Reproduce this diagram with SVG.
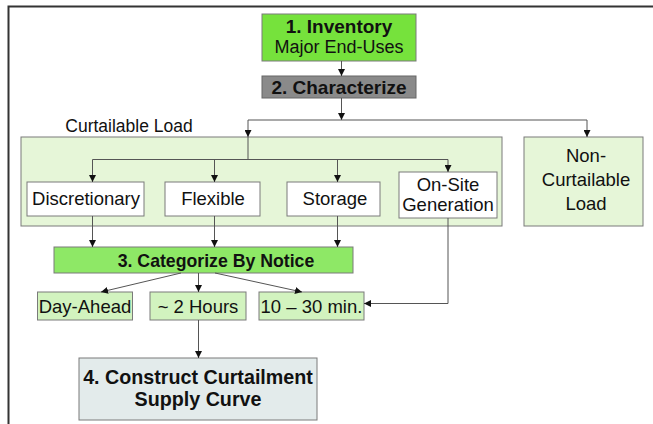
<svg xmlns="http://www.w3.org/2000/svg" width="653" height="424" viewBox="0 0 653 424">
<style>
  text{font-family:"Liberation Sans",Arial,sans-serif;fill:#111;text-anchor:middle}
  .b{font-weight:bold}
  .box{stroke:#7a7a7a;stroke-width:1}
  .ln{fill:none;stroke:#555;stroke-width:1}
</style>
<defs>
  <marker id="ah" viewBox="0 0 8 8" refX="8" refY="4" markerWidth="7" markerHeight="7" markerUnits="userSpaceOnUse" orient="auto">
    <path d="M0,0 L8,4 L0,8 Z" fill="#111"/>
  </marker>
</defs>
<rect width="653" height="424" fill="#fff"/>
<path d="M8.5,424 V6.5 H653" fill="none" stroke="#333" stroke-width="2"/>

<g id="container">
  <rect class="box" x="21" y="137" width="481" height="89" fill="#e6f6d8"/>
  <text x="129" y="132" font-size="17.5">Curtailable Load</text>
</g>
<g id="inventory">
  <rect class="box" x="262" y="14" width="154" height="47" fill="#76e23c"/>
  <text class="b" x="339" y="33" font-size="19">1. Inventory</text>
  <text x="339" y="53" font-size="18">Major End-Uses</text>
</g>
<g id="characterize">
  <rect x="262" y="76" width="154" height="22" fill="#8a8a8a" stroke="#666"/>
  <text class="b" x="339" y="93.5" font-size="19">2. Characterize</text>
</g>
<g id="noncurtailable">
  <rect class="box" x="524" y="137" width="119" height="89" fill="#e6f6d8"/>
  <text x="586" y="162" font-size="18.5">Non-</text>
  <text x="586" y="186" font-size="18.5">Curtailable</text>
  <text x="586" y="210" font-size="18.5">Load</text>
</g>
<g id="discretionary">
  <rect class="box" x="27" y="182" width="117" height="34" fill="#fff"/>
  <text x="86" y="205" font-size="18.5">Discretionary</text>
</g>
<g id="flexible">
  <rect class="box" x="165" y="182" width="95" height="34" fill="#fff"/>
  <text x="213" y="205" font-size="18.5">Flexible</text>
</g>
<g id="storage">
  <rect class="box" x="287" y="182" width="93" height="34" fill="#fff"/>
  <text x="335" y="205" font-size="18.5">Storage</text>
</g>
<g id="onsite">
  <rect class="box" x="399" y="172" width="98" height="46" fill="#fff"/>
  <text x="448" y="191" font-size="18.5">On-Site</text>
  <text x="448" y="211" font-size="18.5">Generation</text>
</g>
<g id="categorize">
  <rect class="box" x="54" y="247" width="299" height="26" fill="#8ee866"/>
  <text class="b" x="216" y="266.5" font-size="17.7">3. Categorize By Notice</text>
</g>
<g id="dayahead">
  <rect class="box" x="37.5" y="292" width="95" height="28" fill="#d2f3bf"/>
  <text x="85" y="313" font-size="18.5">Day-Ahead</text>
</g>
<g id="twohours">
  <rect class="box" x="150" y="292" width="96" height="28" fill="#d2f3bf"/>
  <text x="198" y="313" font-size="18.5">~ 2 Hours</text>
</g>
<g id="tenthirty">
  <rect class="box" x="259" y="292" width="105" height="28" fill="#d2f3bf"/>
  <text x="311.5" y="313" font-size="18.5">10 – 30 min.</text>
</g>
<g id="construct">
  <rect class="box" x="79" y="358" width="238" height="62" fill="#e3ebeb"/>
  <text class="b" x="198" y="384" font-size="19.7">4. Construct Curtailment</text>
  <text class="b" x="198" y="406" font-size="19.7">Supply Curve</text>
</g>

<g id="connectors" class="ln">
  <path d="M341.5,61 V76" marker-end="url(#ah)"/>
  <path d="M341.5,98 V120" marker-end="url(#ah)"/>
  <path d="M248,120 H587"/>
  <path d="M248,120 V137" marker-end="url(#ah)"/>
  <path d="M587,120 V137" marker-end="url(#ah)"/>
  <path d="M248,137 V159.5"/>
  <path d="M92.5,159.5 H448"/>
  <path d="M92.5,159.5 V182" marker-end="url(#ah)"/>
  <path d="M214.5,159.5 V182" marker-end="url(#ah)"/>
  <path d="M337.5,159.5 V182" marker-end="url(#ah)"/>
  <path d="M448,159.5 V172" marker-end="url(#ah)"/>
  <path d="M92.5,216 V247" marker-end="url(#ah)"/>
  <path d="M214.5,216 V247" marker-end="url(#ah)"/>
  <path d="M337.5,216 V247" marker-end="url(#ah)"/>
  <path d="M181,273 L101,292" marker-end="url(#ah)"/>
  <path d="M198.5,273 V292" marker-end="url(#ah)"/>
  <path d="M215,273 L302,292" marker-end="url(#ah)"/>
  <path d="M448,218 V303.5 H364" marker-end="url(#ah)"/>
  <path d="M198.5,320 V358" marker-end="url(#ah)"/>
</g>
</svg>
